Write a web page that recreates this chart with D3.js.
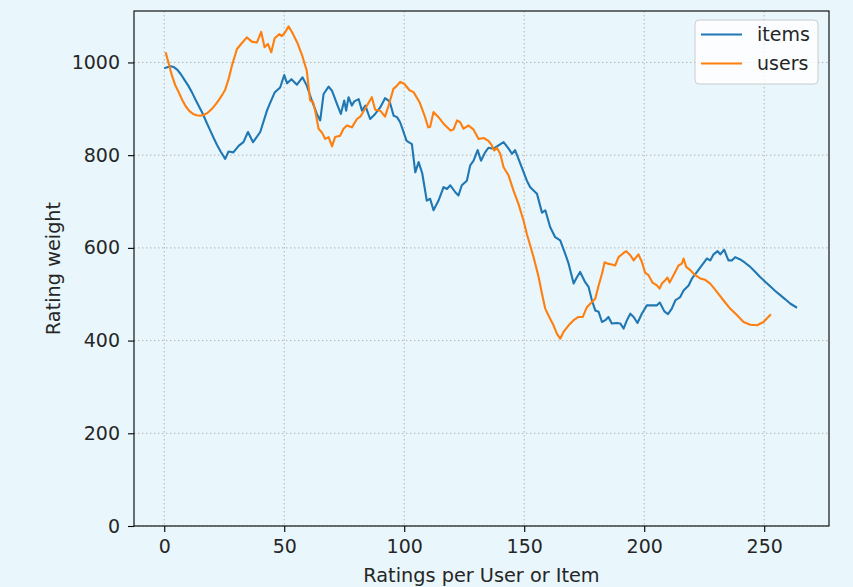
<!DOCTYPE html>
<html>
<head>
<meta charset="utf-8">
<script src="https://cdn.jsdelivr.net/npm/d3@7/dist/d3.min.js"></script>
<style>
  html, body { margin: 0; padding: 0; background: #e9f6fb; }
  svg { display: block; }
  text { font-family: "DejaVu Sans", sans-serif; fill: #262626; }
</style>
</head>
<body>
<svg id="chart" width="853" height="587"></svg>
<script>
// Rating weight by number of ratings per user / per item, as [ratings, weight]
const items = [
  [0.4, 988], [2.5, 992], [4, 990], [5.5, 984], [7, 974], [8.5, 962], [10, 950],
  [11.5, 936], [13, 920], [14.5, 905], [16, 890], [17.5, 872], [19, 855], [20.5, 838],
  [22, 822], [23.5, 808], [25.4, 792],
  [26.8, 808], [28.8, 806], [31, 820], [33, 828], [34.9, 850], [37, 828], [40, 850],
  [42.8, 896], [44, 911], [46, 935], [48.3, 946], [50, 973], [51.2, 955], [53, 964],
  [55.3, 952], [57.6, 968], [59.4, 950], [61.5, 918], [63.6, 889], [65, 875], [66.4, 932],
  [68.5, 948], [69.9, 939], [72, 910], [73.6, 889], [75, 918], [75.8, 896], [76.8, 925],
  [78.2, 907], [79.2, 916], [81, 921], [82.4, 896], [83.8, 907], [85.8, 878], [87.9, 889],
  [90, 903], [92, 923], [93.9, 916], [95.6, 885], [97, 882], [98.3, 871], [101, 831],
  [103.2, 824], [104.6, 763], [106, 785], [107.5, 761], [109.4, 702], [110.8, 706],
  [112.2, 681], [114.3, 702], [116.4, 731], [117.8, 727], [119.2, 735], [121.3, 720],
  [122.6, 713], [124, 735], [126.1, 745], [127.5, 778], [128.9, 788], [130.6, 811],
  [132, 788], [133.7, 806], [135.1, 816], [137.2, 814], [139.3, 821], [141.4, 828],
  [143.5, 814], [144.9, 803], [146.2, 811], [148.3, 783], [151.1, 745], [152.5, 731],
  [153.9, 724], [155.3, 717], [157.4, 676], [158.8, 681], [160.8, 645], [162.9, 623],
  [165, 616], [167.1, 587], [168.5, 566], [170.6, 523], [172, 537], [173.3, 548],
  [175.4, 526], [176.8, 516], [178.2, 487], [179.6, 465], [181, 462], [182.4, 440],
  [183.8, 444], [185.1, 451], [186.5, 437], [188.6, 438], [190, 437], [191.4, 426],
  [192.8, 444], [194.2, 458], [195.6, 451], [197.2, 438], [199, 458], [201.1, 476],
  [203.2, 476], [205.3, 476], [206.5, 482], [208.4, 463], [209.9, 457], [211.5, 469],
  [213, 487], [215, 494], [216.4, 508], [218.5, 519], [219.9, 534], [222, 548],
  [224, 562], [226.1, 577], [227.5, 573], [228.9, 586], [230.6, 593], [231.7, 586],
  [233.3, 596], [235.1, 573], [236.5, 573], [237.9, 580], [240, 575], [242, 568],
  [244.2, 559], [246.3, 548], [248.3, 537], [250.4, 527], [252.5, 517], [254.6, 507],
  [256.7, 498], [258.8, 489], [260.8, 480], [263.3, 472]
];

const users = [
  [0.7, 1020], [2, 995], [3.2, 972], [4.5, 952], [6, 936], [7.5, 919], [9, 905],
  [10.5, 895], [12, 889], [13.5, 886], [15, 885], [16.5, 887], [18, 891], [19.9, 900],
  [21.5, 910], [23, 921], [24.5, 933], [25.4, 941], [26.8, 964], [28.2, 993], [30.3, 1029],
  [32.4, 1042], [34.4, 1054], [36.5, 1045], [38.6, 1043], [40.4, 1066], [41.8, 1033],
  [43.2, 1040], [44.6, 1022], [46, 1052], [47.9, 1061], [49, 1057], [50.4, 1065],
  [51.8, 1078], [53.5, 1063], [55.5, 1042], [57.6, 1013], [59.4, 982], [60.8, 918],
  [62, 915], [62.9, 896], [64.3, 857], [65.7, 849], [67.1, 835], [68.5, 839], [69.9, 819],
  [71.2, 839], [73.3, 842], [74.7, 857], [76.1, 864], [78.2, 860], [80.3, 878],
  [81.7, 883], [83.7, 900], [86.5, 925], [87.9, 898], [90, 896], [92, 883], [93.5, 907],
  [95.5, 943], [97, 950], [98.3, 958], [100, 954], [102.2, 940], [103.9, 936],
  [106.5, 913], [108.5, 885], [110, 860], [110.8, 861], [112.2, 893], [114.3, 882],
  [116.7, 866], [119.3, 853], [120.6, 856], [122, 875], [123.3, 871], [124.7, 857],
  [126.8, 864], [128.9, 855], [131, 835], [133.1, 837], [135.1, 831], [136.5, 821],
  [137.5, 810], [138.6, 816], [140, 803], [141.4, 774], [143.5, 756], [145.5, 724],
  [147.6, 695], [149.7, 659], [151.1, 630], [152.5, 605], [153.9, 580], [156, 537],
  [157.4, 501], [158.75, 469], [160.8, 447], [162.2, 433], [163.6, 415], [165, 404],
  [166.4, 419], [168.5, 433], [170.6, 444], [172.6, 451], [174.4, 451], [176.1, 472],
  [178.2, 483], [179.6, 490], [181, 519], [182.4, 544], [183.5, 569], [184.7, 566],
  [186.5, 564], [187.9, 562], [189.3, 580], [191.4, 589], [192.5, 593], [194.2, 584],
  [195.6, 573], [197.6, 586], [199, 570], [200.4, 546], [201.8, 541], [203.5, 525],
  [205.3, 519], [206.4, 512], [207.4, 523], [208.75, 530], [209.7, 536], [210.6, 525],
  [212.2, 541], [214.3, 562], [215.7, 566], [216.4, 577], [217.5, 559], [219.2, 552],
  [221.25, 541], [223.3, 534], [225.4, 531], [227.5, 523], [230.3, 505], [233, 487],
  [235.8, 469], [238.6, 455], [241.4, 440], [244.2, 434], [247, 433], [249.7, 440],
  [252.5, 455]
];

const seriesNames = ["items", "users"];
const seriesColors = ["#1f77b4", "#ff7f0e"];
const xTicks = [0, 50, 100, 150, 200, 250];
const yTicks = [0, 200, 400, 600, 800, 1000];
const xTitle = "Ratings per User or Item";
const yTitle = "Rating weight";

const margin = { left: 134, right: 24, top: 11, bottom: 61 };
const W = 853, H = 587;
const iw = W - margin.left - margin.right;
const ih = H - margin.top - margin.bottom;
const fontPx = 19;

const svg = d3.select("#chart");
const g = svg.append("g").attr("transform", `translate(${margin.left},${margin.top})`);

const x = d3.scaleLinear().domain([-12.6, 277]).range([0, iw]);
const y = d3.scaleLinear().domain([0, 1111]).range([ih, 0]);

// dotted grid
const grid = g.append("g").attr("stroke", "#b0b0b0").attr("stroke-width", 1)
  .attr("stroke-dasharray", "1.4,2.6");
grid.selectAll("line.vx").data(xTicks).join("line")
  .attr("x1", d => x(d)).attr("x2", d => x(d)).attr("y1", 0).attr("y2", ih);
grid.selectAll("line.hy").data(yTicks).join("line")
  .attr("x1", 0).attr("x2", iw).attr("y1", d => y(d)).attr("y2", d => y(d));

// series lines
const line = d3.line().x(d => x(d[0])).y(d => y(d[1]));
[items, users].forEach((data, i) => {
  g.append("path").datum(data)
    .attr("fill", "none")
    .attr("stroke", seriesColors[i])
    .attr("stroke-width", 2.1)
    .attr("stroke-linejoin", "round")
    .attr("stroke-linecap", "square")
    .attr("d", line);
});

// axes
const fmt = d3.format("d");
const xAxis = g.append("g").attr("transform", `translate(0,${ih})`)
  .call(d3.axisBottom(x).tickValues(xTicks).tickFormat(fmt).tickSize(6).tickPadding(8));
const yAxis = g.append("g")
  .call(d3.axisLeft(y).tickValues(yTicks).tickFormat(fmt).tickSize(6).tickPadding(8));
[xAxis, yAxis].forEach(a => {
  a.select(".domain").remove();
  a.selectAll(".tick line").attr("stroke", "#000").attr("stroke-width", 1.1);
  a.selectAll(".tick text").attr("font-size", fontPx).attr("fill", "#262626")
    .style("font-family", "'DejaVu Sans', sans-serif");
});

// frame
g.append("rect").attr("x", 0).attr("y", 0).attr("width", iw).attr("height", ih)
  .attr("fill", "none").attr("stroke", "#000").attr("stroke-width", 1.1);

// axis titles
svg.append("text").attr("x", margin.left + iw / 2).attr("y", 582)
  .attr("text-anchor", "middle").attr("font-size", fontPx + 0.3).text(xTitle);
svg.append("text")
  .attr("transform", `translate(60,${margin.top + ih / 2}) rotate(-90)`)
  .attr("text-anchor", "middle").attr("font-size", fontPx + 0.3).text(yTitle);

// legend
const lg = svg.append("g").attr("transform", "translate(695,20)");
lg.append("rect").attr("width", 123).attr("height", 64).attr("rx", 4)
  .attr("fill", "rgba(255,255,255,0.8)").attr("stroke", "#cccccc").attr("stroke-width", 1);
seriesNames.forEach((name, i) => {
  const yy = 14.5 + i * 29;
  lg.append("line").attr("x1", 6).attr("x2", 47).attr("y1", yy).attr("y2", yy)
    .attr("stroke", seriesColors[i]).attr("stroke-width", 2.1);
  lg.append("text").attr("x", 62).attr("y", yy + 6.5).attr("font-size", fontPx).text(name);
});
</script>
</body>
</html>
